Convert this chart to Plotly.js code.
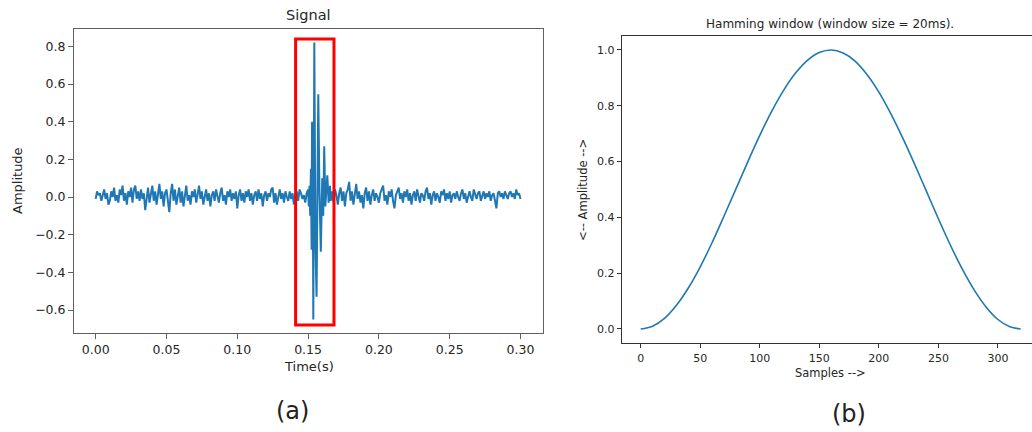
<!DOCTYPE html>
<html>
<head>
<meta charset="utf-8">
<script src="https://cdn.plot.ly/plotly-3.0.1.min.js"></script>
<style>html,body{margin:0;padding:0;background:#fff;}#chart{width:1032px;height:432px;}</style>
</head>
<body>
<div id="chart"></div>
<script>
// ---- Signal (left panel) ----
var sampleStep = 0.001;
var noiseBefore = [
  -0.01, 0.03, 0.01, 0.02, -0.02, 0.01, 0.04, -0.01, 0.02, -0.04,
  -0.02, 0.03, 0.00, 0.05, -0.02, 0.01, -0.03, 0.04, 0.01, 0.06,
  -0.02, 0.02, -0.04, 0.03, 0.00, 0.05, -0.03, 0.04, 0.06, -0.01,
  0.03, -0.02, 0.04, -0.01, 0.02, -0.07, 0.00, 0.05, -0.03, 0.02,
  0.06, -0.02, 0.03, -0.04, 0.01, 0.07, -0.01, 0.03, -0.05, 0.02,
  0.04, -0.03, -0.08, 0.02, 0.07, -0.02, 0.04, -0.04, 0.01, 0.05,
  -0.03, 0.03, -0.05, 0.02, 0.06, -0.02, 0.01, -0.04, 0.03, 0.00,
  0.04, -0.03, 0.02, 0.06, -0.01, 0.03, -0.04, 0.01, 0.04, -0.02,
  0.02, -0.05, 0.01, 0.03, -0.02, 0.04, 0.00, -0.03, 0.02, 0.05,
  -0.02, 0.01, -0.04, 0.03, 0.00, 0.04, -0.02, 0.02, -0.01, 0.03,
  -0.06, 0.01, 0.04, -0.02, 0.02, -0.03, 0.03, 0.00, 0.04, -0.02,
  0.02, -0.04, 0.01, 0.03, -0.02, 0.04, -0.01, 0.02, -0.05, 0.01,
  0.03, -0.02, 0.02, 0.00, 0.04, 0.05, -0.03, 0.02, -0.04, 0.01,
  0.04, -0.01, 0.02, -0.03, 0.03, 0.00, -0.02, 0.03, -0.01, 0.02,
  -0.04, 0.01, 0.03, -0.02, 0.04, 0.02, -0.01, 0.01, -0.03, 0.02
];
var burstTimes = [0.1500, 0.1505, 0.1510, 0.1515, 0.1520, 0.1525, 0.1528, 0.1533, 0.1537, 0.1544,
  0.1552, 0.1560, 0.1566, 0.1572, 0.1580, 0.1590, 0.1600, 0.1607, 0.1614, 0.1622,
  0.1630, 0.1636, 0.1645, 0.1655, 0.1660];
var burstAmps = [0.04, -0.05, 0.06, -0.10, 0.15, -0.28, 0.40, 0.10, -0.65, 0.82,
  -0.25, -0.53, 0.20, 0.545, 0.05, -0.29, 0.10, -0.10, 0.27, -0.05,
  0.05, 0.115, -0.03, 0.06, -0.02];
var noiseAfterStart = 0.167;
var noiseAfter = [
  0.03, -0.03, 0.04,
  0.01, -0.04, 0.02, 0.05, -0.02, 0.03, -0.05, 0.02, 0.04, 0.08,
  -0.02, 0.03, -0.04, 0.02, 0.07, -0.01, 0.03, -0.03, 0.01, -0.06,
  0.02, 0.05, -0.02, 0.03, -0.04, 0.01, 0.04, -0.02, 0.02, 0.00,
  -0.03, 0.02, 0.04, 0.06, -0.02, 0.01, -0.04, 0.03, 0.00, 0.04,
  -0.02, -0.06, 0.01, 0.03, 0.05, -0.01, 0.02, -0.03, 0.03, 0.00,
  0.04, -0.02, 0.02, -0.04, 0.01, 0.03, -0.02, 0.04, 0.00, -0.03,
  0.02, 0.01, -0.02, 0.03, 0.05, -0.01, 0.02, -0.04, 0.01, 0.03,
  -0.02, 0.02, 0.00, -0.03, 0.03, 0.01, 0.04, -0.02, 0.02, -0.01,
  0.03, -0.03, 0.01, 0.02, -0.01, 0.03, 0.00, -0.02, 0.02, 0.04,
  -0.01, 0.02, -0.03, 0.01, 0.03, 0.00, -0.02, 0.04, 0.01, -0.01,
  0.02, 0.03, -0.02, 0.01, 0.03, -0.01, 0.02, 0.00, 0.03, -0.02,
  0.01, 0.02, -0.02, -0.06, 0.02, 0.03, 0.00, 0.02, -0.01, 0.03,
  0.01, -0.01, 0.02, 0.03, 0.00, 0.02, -0.01, 0.04, 0.01, 0.02,
  -0.01
];
var boxTime = [0.1412, 0.1683];
var boxAmp = [-0.68, 0.839];

// ---- Hamming window (right panel) ----
var winSamples = [0, 10, 20, 30, 40, 50, 60, 70, 80, 90, 100, 110, 120, 130, 140, 150, 160,
  170, 180, 190, 200, 210, 220, 230, 240, 250, 260, 270, 280, 290, 300, 310, 319];
var winValues = [0.000, 0.010, 0.038, 0.085, 0.147, 0.223, 0.310, 0.405, 0.502, 0.600, 0.694,
  0.780, 0.855, 0.917, 0.963, 0.991, 1.000, 0.989, 0.960, 0.912, 0.849, 0.772, 0.685,
  0.591, 0.493, 0.395, 0.301, 0.215, 0.140, 0.079, 0.034, 0.008, 0.000];

var xTicksLeft = [0, 0.05, 0.10, 0.15, 0.20, 0.25, 0.30];
var yTicksLeft = [-0.6, -0.4, -0.2, 0.0, 0.2, 0.4, 0.6, 0.8];
var xTicksRight = [0, 50, 100, 150, 200, 250, 300];
var yTicksRight = [0.0, 0.2, 0.4, 0.6, 0.8, 1.0];

// assemble signal
var sigT = [], sigA = [];
noiseBefore.forEach(function (v, i) { sigT.push(+(i * sampleStep).toFixed(4)); sigA.push(v); });
burstTimes.forEach(function (t, i) { sigT.push(t); sigA.push(burstAmps[i]); });
noiseAfter.forEach(function (v, i) { sigT.push(+(noiseAfterStart + i * sampleStep).toFixed(4)); sigA.push(v); });

var blue = '#1f77b4';
var font = 'DejaVu Sans, Liberation Sans, sans-serif';

var traces = [
  { x: sigT, y: sigA, type: 'scatter', mode: 'lines', line: { color: blue, width: 2 },
    xaxis: 'x', yaxis: 'y', hoverinfo: 'skip' },
  { x: winSamples, y: winValues, type: 'scatter', mode: 'lines',
    line: { color: blue, width: 1.6, shape: 'spline', smoothing: 1 },
    xaxis: 'x2', yaxis: 'y2', hoverinfo: 'skip' }
];

function ax(o) {
  return Object.assign({
    showgrid: false, zeroline: false, showline: true, ticks: 'outside',
    ticklen: 5, tickwidth: 1, fixedrange: true
  }, o);
}

var leftLine = '#606060', rightLine = '#333333';
var layout = {
  width: 1032, height: 432,
  margin: { l: 0, r: 0, t: 0, b: 0 },
  paper_bgcolor: '#fff', plot_bgcolor: '#fff',
  showlegend: false,
  font: { family: font, color: '#262626' },
  xaxis: ax({ domain: [74 / 1032, 543 / 1032], range: [-0.0153, 0.3159], anchor: 'y',
    tickvals: xTicksLeft, tickformat: '.2f', mirror: true, linecolor: leftLine, tickcolor: leftLine,
    tickfont: { size: 12.5, family: font, color: '#262626' } }),
  yaxis: ax({ domain: [1 - 333 / 432, 1 - 29 / 432], range: [-0.722, 0.892], anchor: 'x',
    tickvals: yTicksLeft, tickformat: '.1f', mirror: true, linecolor: leftLine, tickcolor: leftLine,
    tickfont: { size: 12.5, family: font, color: '#262626' } }),
  xaxis2: ax({ domain: [621.7 / 1032, 1], range: [-15.95, 328.6], anchor: 'y2',
    tickvals: xTicksRight, mirror: true, linecolor: rightLine, tickcolor: rightLine,
    tickfont: { size: 11, family: font, color: '#262626' }, ticklen: 4 }),
  yaxis2: ax({ domain: [1 - 343.3 / 432, 1 - 36 / 432], range: [-0.0513, 1.05], anchor: 'x2',
    tickvals: yTicksRight, tickformat: '.1f', mirror: false, linecolor: rightLine, tickcolor: rightLine,
    tickfont: { size: 11, family: font, color: '#262626' }, ticklen: 4 }),
  shapes: [
    { type: 'rect', xref: 'x', yref: 'y', x0: boxTime[0], x1: boxTime[1], y0: boxAmp[0], y1: boxAmp[1],
      line: { color: '#ff0000', width: 3 }, fillcolor: 'rgba(0,0,0,0)', layer: 'above' }
  ],
  annotations: [
    { text: 'Signal', x: 308 / 1032, y: 1 - 15 / 432, xref: 'paper', yref: 'paper', showarrow: false,
      xanchor: 'center', yanchor: 'middle', font: { size: 14.5, family: font, color: '#262626' } },
    { text: 'Amplitude', x: 18 / 1032, y: 1 - 181 / 432, xref: 'paper', yref: 'paper', showarrow: false,
      textangle: -90, xanchor: 'center', yanchor: 'middle', font: { size: 13, family: font, color: '#262626' } },
    { text: 'Time(s)', x: 309 / 1032, y: 1 - 366 / 432, xref: 'paper', yref: 'paper', showarrow: false,
      xanchor: 'center', yanchor: 'middle', font: { size: 13, family: font, color: '#262626' } },
    { text: '(a)', x: 292 / 1032, y: 1 - 411 / 432, xref: 'paper', yref: 'paper', showarrow: false,
      xanchor: 'center', yanchor: 'middle', font: { size: 24, family: font, color: '#222' } },
    { text: 'Hamming window (window size = 20ms).', x: 830 / 1032, y: 1 - 24 / 432, xref: 'paper', yref: 'paper',
      showarrow: false, xanchor: 'center', yanchor: 'middle', font: { size: 12, family: font, color: '#262626' } },
    { text: '&lt;-- Amplitude --&gt;', x: 583 / 1032, y: 1 - 190 / 432, xref: 'paper', yref: 'paper', showarrow: false,
      textangle: -90, xanchor: 'center', yanchor: 'middle', font: { size: 11.5, family: font, color: '#262626' } },
    { text: 'Samples --&gt;', x: 830 / 1032, y: 1 - 373 / 432, xref: 'paper', yref: 'paper', showarrow: false,
      xanchor: 'center', yanchor: 'middle', font: { size: 11.5, family: font, color: '#262626' } },
    { text: '(b)', x: 849 / 1032, y: 1 - 414 / 432, xref: 'paper', yref: 'paper', showarrow: false,
      xanchor: 'center', yanchor: 'middle', font: { size: 24, family: font, color: '#222' } }
  ]
};

Plotly.newPlot('chart', traces, layout, { displayModeBar: false, staticPlot: true });
</script>
</body>
</html>
